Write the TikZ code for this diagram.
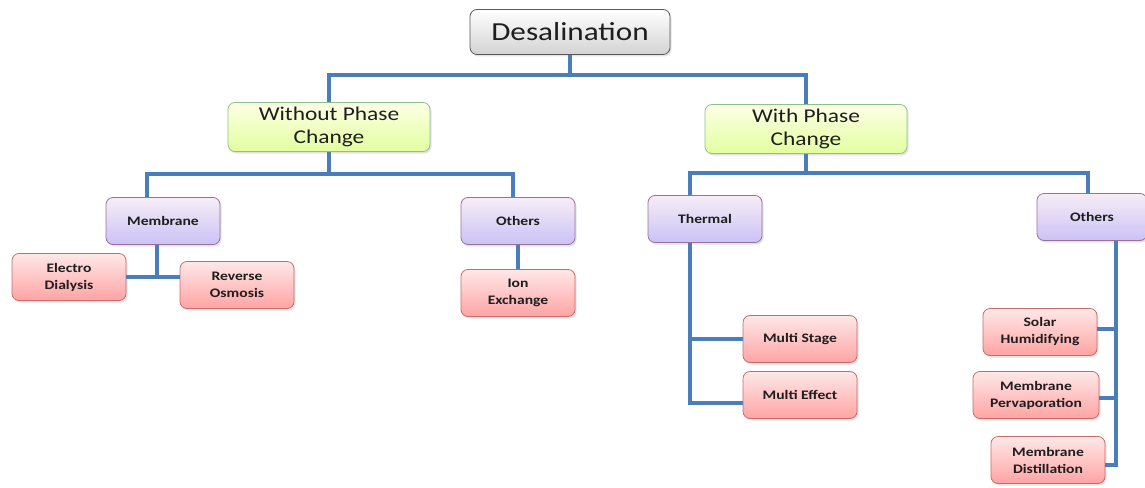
\documentclass[tikz,border=0pt]{standalone}
\usepackage{fontspec}
\setmainfont{Carlito}[FakeStretch=1.2]
\usetikzlibrary{shadows,calc}
\definecolor{conn}{HTML}{4A7EBB}
\definecolor{txt}{HTML}{1E1E1E}
\tikzset{
  box/.style={rectangle, rounded corners=7pt, draw, line width=0.8pt, align=center, text=txt,
    inner sep=2pt, drop shadow={opacity=0.22, shadow xshift=1.5pt, shadow yshift=-2pt}},
  topbox/.style={box, draw=gray!70!black, top color=white, bottom color=gray!35,
    minimum width=200pt, minimum height=45pt, font=\fontsize{26}{28}\selectfont},
  phasebox/.style={box, draw=green!30!gray!70, top color=green!8!yellow!10, bottom color=green!30!yellow!38,
    minimum width=202pt, minimum height=49pt, font=\fontsize{19.5}{23}\selectfont},
  midbox/.style={box, draw=violet!40!gray!80, top color=violet!7, bottom color=violet!30!blue!24,
    minimum width=114pt, minimum height=47pt, font=\bfseries\fontsize{13}{17}\selectfont},
  leafbox/.style={box, draw=red!45!gray!80, top color=red!9, bottom color=red!36,
    minimum width=114pt, minimum height=47pt, font=\bfseries\fontsize{13}{17}\selectfont},
  link/.style={draw=conn, line width=4pt}
}
\begin{document}
\begin{tikzpicture}[x=1pt,y=-1pt]
\useasboundingbox (0,0) rectangle (1145,487);
% nodes
\node[topbox] (des) at (570,32) {Desalination};
\node[phasebox] (wo) at (329,127) {Without Phase\\Change};
\node[phasebox] (wi) at (806,129) {With Phase\\Change};
\node[midbox] (mem) at (163,221) {Membrane};
\node[midbox] (oth1) at (518,221) {Others};
\node[midbox] (th) at (705,219) {Thermal};
\node[midbox, minimum width=110pt] (oth2) at (1092,217) {Others};
\node[leafbox] (ed) at (69,277) {Electro\\Dialysis};
\node[leafbox] (ro) at (237,285) {Reverse\\Osmosis};
\node[leafbox] (ion) at (518,293) {Ion\\Exchange};
\node[leafbox] (ms) at (800,339) {Multi Stage};
\node[leafbox] (me) at (800,395) {Multi Effect};
\node[leafbox] (sh) at (1040,332) {Solar\\Humidifying};
\node[leafbox, minimum width=126pt] (mp) at (1036,395) {Membrane\\Pervaporation};
\node[leafbox] (md) at (1048,460) {Membrane\\Distillation};
% connectors
\coordinate (bar0) at (0,75);
\draw[link] (des.south) -- (des.south |- bar0) -| (wo.north);
\draw[link] (des.south |- bar0) -| (wi.north);
\coordinate (bar1) at (0,174);
\coordinate (memin) at ([xshift=-16pt]mem.north);
\coordinate (oth1in) at ([xshift=-5pt]oth1.north);
\draw[link] (wo.south) -- (wo.south |- bar1) -| (memin);
\draw[link] (wo.south |- bar1) -| (oth1in);
\coordinate (bar2) at (0,173);
\coordinate (thin) at ([xshift=-15pt]th.north);
\coordinate (oth2in) at ([xshift=-4pt]oth2.north);
\draw[link] (wi.south) -- (wi.south |- bar2) -| (thin);
\draw[link] (wi.south |- bar2) -| (oth2in);
% membrane
\coordinate (memout) at ([xshift=-6pt]mem.south);
\draw[link] (memout) -- (memout |- ed.east);
\draw[link] (ed.east) -- (ro.west |- ed.east);
% others left
\draw[link] (oth1.south) -- (ion.north);
% thermal
\coordinate (thout) at ([xshift=-15pt]th.south);
\draw[link] (thout) |- (ms.west);
\draw[link] (thout) |- ([yshift=-8pt]me.west);
% others right
\coordinate (ov) at ([xshift=24pt]oth2.south);
\coordinate (mdin) at ([yshift=-5pt]md.east);
\coordinate (shin) at ([yshift=3pt]sh.east);
\coordinate (mpin) at ([yshift=-3pt]mp.east);
\draw[link] (ov) |- (mdin);
\draw[link] (shin) -- (ov |- shin);
\draw[link] (mpin) -- (ov |- mpin);
\end{tikzpicture}
\end{document}
